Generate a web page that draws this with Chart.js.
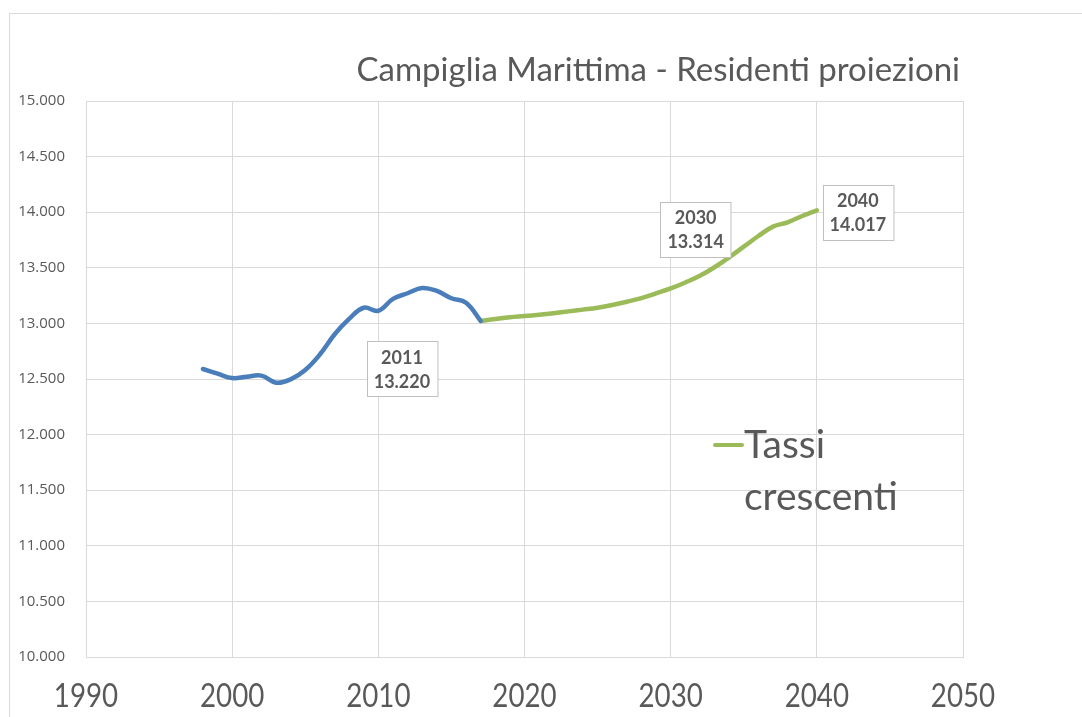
<!DOCTYPE html>
<html>
<head>
<meta charset="utf-8">
<script src="https://cdn.jsdelivr.net/npm/chart.js@4.4.0/dist/chart.umd.min.js"></script>
<style>
  html, body { margin: 0; padding: 0; background: #fff; }
  #wrap { width: 1082px; height: 717px; position: relative; }
</style>
</head>
<body>
<div id="wrap"><canvas id="popChart"></canvas></div>
<script>
// Dati storici (residenti)
const historyYears = [1998, 1999, 2000, 2001, 2002, 2003, 2004, 2005, 2006, 2007, 2008, 2009, 2010, 2011, 2012, 2013, 2014, 2015, 2016, 2017];
const historyValues = [12590, 12548, 12508, 12521, 12530, 12467, 12497, 12581, 12720, 12900, 13040, 13141, 13114, 13220, 13271, 13318, 13292, 13226, 13186, 13022];

// Proiezione "Tassi crescenti"
const projYears = [2017, 2018, 2019, 2020, 2021, 2022, 2023, 2024, 2025, 2026, 2027, 2028, 2029, 2030, 2031, 2032, 2033, 2034, 2035, 2036, 2037, 2038, 2039, 2040];
const projValues = [13022, 13040, 13055, 13066, 13078, 13092, 13108, 13124, 13141, 13165, 13195, 13228, 13270, 13314, 13368, 13428, 13505, 13594, 13690, 13786, 13870, 13909, 13966, 14017];

const xTicks = [1990, 2000, 2010, 2020, 2030, 2040, 2050];
const yTicks = [10000, 10500, 11000, 11500, 12000, 12500, 13000, 13500, 14000, 14500, 15000];

const chartTitle = 'Campiglia Marittima - Residenti proiezioni';
const projLabel = 'Tassi crescenti';

// Punti con etichetta: serie, anno
const labelledPoints = [
    { series: 0, year: 2011 },
    { series: 1, year: 2030 },
    { series: 1, year: 2040 }
];
// spostamento della casella rispetto al punto
const labelOffsets = [[9, 70], [25, -59], [41, 2]];

function fmt(v) {
    return String(Math.round(v)).replace(/\B(?=(\d{3})+(?!\d))/g, '.');
}

const textColor = '#595959';
const gridColor = '#d9d9d9';

const toPoints = (xs, ys) => xs.map((x, i) => ({ x: x, y: ys[i] }));

// Sfondo e bordo esterno
const framePlugin = {
    id: 'frame',
    beforeDraw(chart) {
        const c = chart.ctx;
        c.save();
        c.fillStyle = '#fff';
        c.fillRect(0, 0, chart.width, chart.height);
        c.strokeStyle = '#d9d9d9';
        c.lineWidth = 1;
        c.beginPath();
        c.moveTo(9.5, chart.height);
        c.lineTo(9.5, 13.5);
        c.lineTo(chart.width, 13.5);
        c.stroke();
        c.restore();
    }
};

// Titolo, etichette asse X (strette) e legenda come in Excel
const textPlugin = {
    id: 'texts',
    afterDraw(chart) {
        const c = chart.ctx;
        c.save();
        c.fillStyle = textColor;
        c.font = '33px Lato, "Open Sans", sans-serif';
        c.textAlign = 'right';
        c.textBaseline = 'middle';
        c.fillText(chartTitle, 960, 70);

        // etichette anni, compresse in orizzontale
        const xs = chart.scales.x;
        c.font = '33px Lato, sans-serif';
        c.textAlign = 'center';
        xs.ticks.forEach(t => {
            c.save();
            c.translate(xs.getPixelForValue(t.value), 696);
            c.scale(0.84, 1);
            c.fillText(String(t.value), 0, 0);
            c.restore();
        });

        // legenda (solo la proiezione)
        const ds = chart.data.datasets[1];
        c.strokeStyle = ds.borderColor;
        c.lineWidth = 4;
        c.lineCap = 'round';
        c.beginPath();
        c.moveTo(715, 445);
        c.lineTo(742, 445);
        c.stroke();
        const words = ds.label.split(' ');
        c.font = '39px Lato, "Open Sans", sans-serif';
        c.textAlign = 'left';
        c.fillText(words[0], 744, 445);
        c.fillText(words[1], 744, 497);
        c.restore();
    }
};

// Caselle con anno e valore
const calloutPlugin = {
    id: 'callouts',
    afterDatasetsDraw(chart) {
        const c = chart.ctx;
        const xs = chart.scales.x, ys = chart.scales.y;
        c.save();
        c.font = 'bold 18px Lato, "Open Sans", sans-serif';
        c.textAlign = 'center';
        c.textBaseline = 'middle';
        labelledPoints.forEach((lp, i) => {
            const pt = chart.data.datasets[lp.series].data.find(p => p.x === lp.year);
            const px = xs.getPixelForValue(pt.x);
            const py = ys.getPixelForValue(pt.y);
            const cx = px + labelOffsets[i][0];
            const cy = py + labelOffsets[i][1];
            const l1 = String(pt.x), l2 = fmt(pt.y);
            const w = Math.max(c.measureText(l1).width, c.measureText(l2).width) + 14;
            const h = 55;
            const bx = Math.round(cx - w / 2) + 0.5, by = Math.round(cy - h / 2) + 0.5;
            c.fillStyle = '#fff';
            c.fillRect(bx, by, w, h);
            c.strokeStyle = '#bfbfbf';
            c.lineWidth = 1;
            c.strokeRect(bx, by, w, h);
            c.fillStyle = textColor;
            c.fillText(l1, cx, cy - 11);
            c.fillText(l2, cx, cy + 13);
        });
        c.restore();
    }
};

const ctx = document.getElementById('popChart').getContext('2d');
const popChart = new Chart(ctx, {
    type: 'line',
    data: {
        datasets: [{
            label: 'Residenti',
            data: toPoints(historyYears, historyValues),
            borderColor: '#4a7ebb',
            borderWidth: 4.5,
            tension: 0.4,
            pointRadius: 0,
            borderCapStyle: 'round',
            fill: false
        }, {
            label: projLabel,
            data: toPoints(projYears, projValues),
            borderColor: '#9bbb59',
            borderWidth: 4.5,
            tension: 0.4,
            pointRadius: 0,
            borderCapStyle: 'round',
            fill: false
        }]
    },
    options: {
        responsive: true,
        maintainAspectRatio: false,
        animation: false,
        layout: { padding: { top: 101, right: 119, left: 0, bottom: 0 } },
        plugins: {
            legend: { display: false },
            title: { display: false },
            tooltip: { enabled: false }
        },
        scales: {
            x: {
                type: 'linear',
                min: xTicks[0],
                max: xTicks[xTicks.length - 1],
                afterBuildTicks: s => { s.ticks = xTicks.map(v => ({ value: v })); },
                afterFit: s => { s.height = 60; },
                grid: { color: gridColor, drawTicks: false },
                border: { color: gridColor },
                ticks: { display: false }
            },
            y: {
                min: yTicks[0],
                max: yTicks[yTicks.length - 1],
                afterBuildTicks: s => { s.ticks = yTicks.map(v => ({ value: v })); },
                afterFit: s => { s.width = 86; },
                grid: { color: gridColor, drawTicks: false },
                border: { color: gridColor },
                ticks: {
                    color: textColor,
                    padding: 21,
                    font: { family: '"Open Sans", sans-serif', size: 15 },
                    callback: v => fmt(v)
                }
            }
        }
    },
    plugins: [framePlugin, calloutPlugin, textPlugin]
});
</script>
</body>
</html>
